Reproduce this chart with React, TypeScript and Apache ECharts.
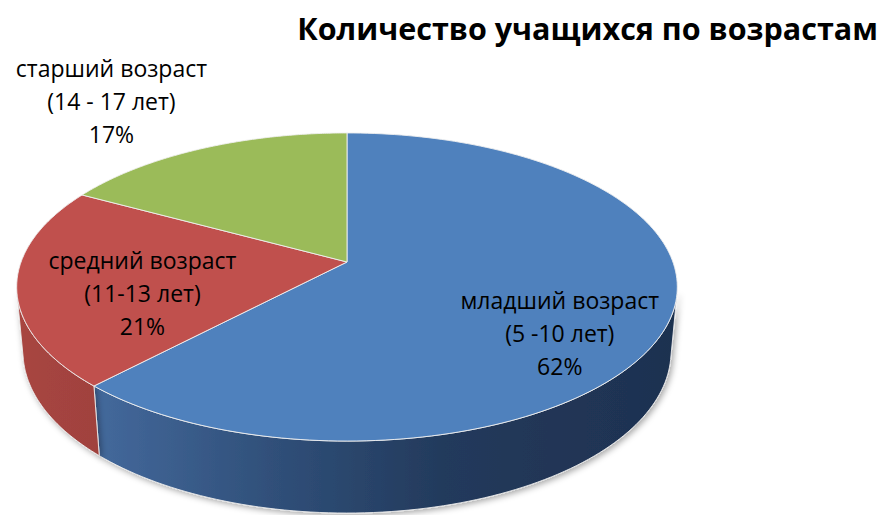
import React, { useEffect, useRef } from "react";
import * as echarts from "echarts";

// ---- data ----
const title = "Количество учащихся по возрастам";
const categories = ["младший возраст", "средний возраст", "старший возраст"];
const ageRanges = ["(5 -10 лет)", "(11-13 лет)", "(14 - 17 лет)"];
const values = [62, 21, 17];

// ---- styles ----
const topColors = ["#4F81BD", "#C0504D", "#9BBB59"];
const wallStops = [
  [
    [0, "#44699C"],
    [0.3, "#30507A"],
    [0.6, "#233A5C"],
    [1, "#1E3150"],
  ],
  [
    [0, "#A84540"],
    [1, "#A0423E"],
  ],
  [
    [0, "#7F9B46"],
    [1, "#728D3E"],
  ],
];
const FONT = "'Open Sans', 'Noto Sans', sans-serif";

// ---- 3D layout (perspective pie) ----
const CX = 347;
const CY = 262;
const FOCAL = 1783;
const RADIUS = 0.1828;
const TILT = (27.4 * Math.PI) / 180;
const DEPTH = 0.0411;
// label placement: [radius factor, angle shift in degrees] relative to slice mid-angle
const labelPlace = [
  [0.75, 14.5],
  [0.64, -9.5],
  [1.57, -3.3],
];

const sinT = Math.sin(TILT);
const cosT = Math.cos(TILT);

function proj(theta: number, r: number, h: number): [number, number] {
  const x = RADIUS * r * Math.sin(theta);
  const z = RADIUS * r * Math.cos(theta);
  const up = h * cosT + z * sinT;
  const d = 1 + z * cosT - h * sinT;
  return [CX + (FOCAL * x) / d, CY - (FOCAL * up) / d];
}

const total = values.reduce((a, b) => a + b, 0);
const sliceAngles: [number, number][] = [];
{
  let acc = 0;
  values.forEach((v) => {
    const a0 = (acc / total) * Math.PI * 2;
    acc += v;
    const a1 = (acc / total) * Math.PI * 2;
    sliceAngles.push([a0, a1]);
  });
}
const visMin = Math.acos(-RADIUS / cosT);
const visMax = Math.PI * 2 - visMin;

function grad(stops: (string | number)[][]) {
  return new echarts.graphic.LinearGradient(
    0,
    0,
    1,
    0,
    stops.map((s) => ({ offset: s[0] as number, color: s[1] as string }))
  );
}

export default function App() {
  const ref = useRef<HTMLDivElement>(null);
  useEffect(() => {
    if (!ref.current) return;
    const chart = echarts.init(ref.current, undefined, { renderer: "svg" });
    const data = values.map((v, i) => [i, v]);
    chart.setOption({
      animation: false,
      backgroundColor: "#ffffff",
      title: {
        text: title,
        right: -2,
        top: 7,
        textStyle: {
          fontFamily: FONT,
          fontWeight: "bold",
          fontSize: 30.5,
          color: "#000000",
        },
      },
      series: [
        {
          type: "custom",
          coordinateSystem: "none",
          data,
          z: 1,
          renderItem: (params: any) => {
            const i = params.dataIndex;
            const [a0, a1] = sliceAngles[i];
            const lo = Math.max(a0, visMin);
            const hi = Math.min(a1, visMax);
            if (hi <= lo) return { type: "group", children: [] };
            const N = 90;
            const topPts: number[][] = [];
            const botPts: number[][] = [];
            for (let j = 0; j <= N; j++) {
              const t = lo + ((hi - lo) * j) / N;
              topPts.push(proj(t, 1, 0));
              botPts.push(proj(t, 1, -DEPTH));
            }
            return {
              type: "polygon",
              shape: { points: topPts.concat(botPts.reverse()) },
              style: {
                fill: grad(wallStops[i]),
                stroke: "rgba(235,235,235,0.9)",
                lineWidth: 1,
                shadowBlur: 6,
                shadowColor: "rgba(0,0,0,0.35)",
                shadowOffsetX: 2,
                shadowOffsetY: 2,
              },
            };
          },
        },
        {
          type: "custom",
          coordinateSystem: "none",
          data,
          z: 2,
          renderItem: (params: any) => {
            const i = params.dataIndex;
            const [a0, a1] = sliceAngles[i];
            const N = 160;
            const pts: number[][] = [proj(0, 0, 0)];
            for (let j = 0; j <= N; j++) {
              const t = a0 + ((a1 - a0) * j) / N;
              pts.push(proj(t, 1, 0));
            }
            const mid = (a0 + a1) / 2 + (labelPlace[i][1] * Math.PI) / 180;
            const [lx, ly] = proj(mid, labelPlace[i][0], 0);
            const pct = Math.round((values[i] / total) * 100);
            return {
              type: "group",
              children: [
                {
                  type: "polygon",
                  shape: { points: pts },
                  style: {
                    fill: topColors[i],
                    stroke: "rgba(240,240,240,0.9)",
                    lineWidth: 1,
                  },
                },
                {
                  type: "text",
                  x: lx,
                  y: ly,
                  z2: 10,
                  style: {
                    text: `${categories[i]}\n${ageRanges[i]}\n${pct}%`,
                    align: "center",
                    verticalAlign: "middle",
                    fontFamily: FONT,
                    fontSize: 23,
                    lineHeight: 33,
                    fill: "#000000",
                  },
                },
              ],
            };
          },
        },
      ],
    });
    return () => chart.dispose();
  }, []);
  return (
    <div
      ref={ref}
      style={{ position: "absolute", left: 0, top: 0, width: 881, height: 515 }}
    />
  );
}
